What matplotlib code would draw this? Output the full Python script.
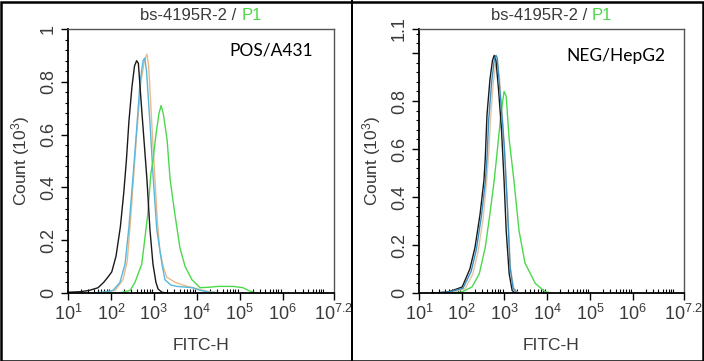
import numpy as np
import matplotlib
matplotlib.use("Agg")
import matplotlib.pyplot as plt
from matplotlib.patches import Rectangle
from matplotlib.ticker import FixedLocator, MultipleLocator

plt.rcParams['font.family'] = ['Liberation Sans', 'DejaVu Sans']
plt.rcParams['mathtext.fontset'] = 'custom'
plt.rcParams['mathtext.rm'] = 'Liberation Sans'
plt.rcParams['mathtext.it'] = 'Liberation Sans'

# ---------------- data (x as log10 FITC-H, y as Count / 10^3) ----------------
title_main = "bs-4195R-2 / "
title_gate = "P1"
panel_labels = ["POS/A431", "NEG/HepG2"]
x_tick_exps = [1, 2, 3, 4, 5, 6, 7.2]
x_tick_labels = ["10$^{1}$", "10$^{2}$", "10$^{3}$", "10$^{4}$", "10$^{5}$", "10$^{6}$", "10$^{7.2}$"]

# Left panel: POS/A431
pos_black_x = [1.0, 1.3, 1.5, 1.7, 1.83, 1.93, 2.02, 2.12, 2.22, 2.30, 2.36, 2.42, 2.49, 2.55, 2.60, 2.64, 2.72, 2.84, 2.91, 2.98, 3.05, 3.10, 3.19, 3.30]
pos_black_y = [0.003, 0.005, 0.01, 0.02, 0.04, 0.06, 0.08, 0.14, 0.25, 0.38, 0.50, 0.65, 0.78, 0.86, 0.88, 0.87, 0.69, 0.43, 0.24, 0.11, 0.04, 0.015, 0.003, 0.0]
pos_blue_x = [1.6, 1.9, 2.05, 2.21, 2.33, 2.42, 2.47, 2.52, 2.60, 2.68, 2.75, 2.79, 2.83, 2.92, 2.98, 3.07, 3.19, 3.26, 3.40, 3.54, 3.75, 3.91, 4.08, 4.30, 4.60]
pos_blue_y = [0.0, 0.005, 0.01, 0.04, 0.11, 0.25, 0.35, 0.45, 0.62, 0.80, 0.88, 0.89, 0.84, 0.62, 0.45, 0.24, 0.11, 0.05, 0.03, 0.025, 0.022, 0.02, 0.01, 0.003, 0.0]
pos_tan_x = [1.8, 2.1, 2.28, 2.38, 2.46, 2.52, 2.60, 2.70, 2.78, 2.84, 2.88, 2.95, 3.02, 3.08, 3.14, 3.22, 3.30, 3.50, 3.68, 3.90, 4.10, 4.30, 4.60]
pos_tan_y = [0.0, 0.01, 0.05, 0.12, 0.28, 0.42, 0.60, 0.80, 0.88, 0.905, 0.86, 0.65, 0.45, 0.28, 0.16, 0.10, 0.06, 0.04, 0.03, 0.02, 0.012, 0.005, 0.0]
pos_green_x = [2.2, 2.45, 2.56, 2.72, 2.86, 2.93, 2.98, 3.05, 3.12, 3.17, 3.22, 3.31, 3.38, 3.49, 3.61, 3.73, 3.89, 4.08, 4.30, 4.50, 4.85, 5.08, 5.20, 5.31, 5.40]
pos_green_y = [0.0, 0.01, 0.04, 0.11, 0.30, 0.45, 0.50, 0.60, 0.68, 0.71, 0.68, 0.58, 0.43, 0.30, 0.17, 0.10, 0.05, 0.02, 0.022, 0.025, 0.025, 0.02, 0.01, 0.003, 0.0]

# Right panel: NEG/HepG2
neg_black_x = [1.3, 1.49, 1.7, 2.01, 2.19, 2.31, 2.43, 2.52, 2.55, 2.59, 2.66, 2.72, 2.76, 2.80, 2.86, 2.93, 2.99, 3.04, 3.11, 3.18, 3.25]
neg_black_y = [0.0, 0.002, 0.005, 0.025, 0.10, 0.19, 0.33, 0.47, 0.56, 0.74, 0.89, 0.97, 0.99, 0.97, 0.85, 0.68, 0.47, 0.26, 0.08, 0.01, 0.0]
neg_blue_x = [1.4, 1.7, 2.03, 2.22, 2.34, 2.46, 2.55, 2.59, 2.63, 2.70, 2.76, 2.80, 2.83, 2.88, 2.95, 3.00, 3.06, 3.13, 3.20, 3.30]
neg_blue_y = [0.0, 0.004, 0.02, 0.09, 0.18, 0.32, 0.46, 0.56, 0.72, 0.88, 0.97, 0.99, 0.98, 0.87, 0.72, 0.60, 0.39, 0.11, 0.02, 0.0]
neg_tan_x = [1.5, 1.8, 2.08, 2.26, 2.38, 2.50, 2.58, 2.63, 2.68, 2.74, 2.79, 2.83, 2.88, 2.95, 3.01, 3.08, 3.14, 3.22, 3.32]
neg_tan_y = [0.0, 0.004, 0.018, 0.08, 0.17, 0.31, 0.46, 0.58, 0.74, 0.88, 0.95, 0.96, 0.90, 0.73, 0.55, 0.33, 0.10, 0.02, 0.0]
neg_green_x = [1.8, 2.01, 2.24, 2.41, 2.55, 2.66, 2.76, 2.83, 2.92, 2.99, 3.04, 3.11, 3.22, 3.34, 3.48, 3.72, 3.95, 4.11]
neg_green_y = [0.0, 0.005, 0.025, 0.08, 0.19, 0.33, 0.47, 0.59, 0.75, 0.84, 0.82, 0.64, 0.47, 0.26, 0.125, 0.04, 0.005, 0.0]

colors = {"black": "#1a1a1a", "blue": "#55b8dc", "tan": "#ebb98a", "green": "#4cd84c"}
neg_colors = {"black": "#1a1a1a", "blue": "#3a8fc0", "tan": "#e4c6a8", "green": "#4cd84c"}

W, H = 704, 361
fig = plt.figure(figsize=(W / 100, H / 100), dpi=100)
fig.patch.set_facecolor("white")

def px_axes(x0, y0, x1, y1):
    return fig.add_axes([x0 / W, 1 - y1 / H, (x1 - x0) / W, (y1 - y0) / H])

ax1 = px_axes(68, 29, 334, 293)
ax2 = px_axes(419, 29, 684, 293)

panels = [
    (ax1, [(pos_tan_x, pos_tan_y, "tan"), (pos_blue_x, pos_blue_y, "blue"),
           (pos_green_x, pos_green_y, "green"), (pos_black_x, pos_black_y, "black")],
     colors, 1.0, [0, 0.2, 0.4, 0.6, 0.8, 1.0], ["0", "0.2", "0.4", "0.6", "0.8", "1"],
     panel_labels[0], (313, 50)),
    (ax2, [(neg_tan_x, neg_tan_y, "tan"), (neg_green_x, neg_green_y, "green"),
           (neg_black_x, neg_black_y, "black"), (neg_blue_x, neg_blue_y, "blue")],
     neg_colors, 1.1, [0, 0.2, 0.4, 0.6, 0.8, 1.0, 1.1], ["0", "0.2", "0.4", "0.6", "0.8", "", "1.1"],
     panel_labels[1], (665, 56)),
]

txt_col = "#3a3a3a"
for ax, series, cmap, ytop, yt, ytl, lab, labpos in panels:
    for xs, ys, c in series:
        ax.plot(10 ** np.array(xs), ys, color=cmap[c], lw=1.0, solid_joinstyle="round")
    ax.set_xscale("log")
    ax.set_xlim(10 ** 1, 10 ** 7.2)
    ax.set_ylim(0, ytop)
    ax.set_xticks([10 ** e for e in x_tick_exps])
    ax.set_xticklabels(x_tick_labels)
    minor = []
    for d in range(1, 8):
        for m in range(2, 10):
            v = m * 10 ** d
            if v < 10 ** 7.2:
                minor.append(v)
    ax.xaxis.set_minor_locator(FixedLocator(minor))
    ax.xaxis.set_minor_formatter(plt.NullFormatter())
    ax.set_yticks(yt)
    ax.set_yticklabels(ytl, rotation=90, va="center")
    ax.yaxis.set_minor_locator(MultipleLocator(0.04))
    ax.tick_params(axis="x", which="major", direction="out", length=5, width=1, colors="black",
                   labelsize=13, labelcolor=txt_col, pad=3)
    ax.tick_params(axis="x", which="minor", direction="in", length=3, width=0.8, colors="black")
    ax.tick_params(axis="y", which="major", direction="out", length=5, width=1, colors="black",
                   labelsize=13, labelcolor=txt_col, pad=3)
    ax.tick_params(axis="y", which="minor", direction="out", length=2.5, width=0.8, colors="black")
    for s in ["left", "bottom"]:
        ax.spines[s].set_color("black")
        ax.spines[s].set_linewidth(1.3)
    for s in ["top", "right"]:
        ax.spines[s].set_color("#555555")
        ax.spines[s].set_linewidth(1.0)
    ax.set_xlabel("FITC-H", fontsize=12.5, color=txt_col, labelpad=10)
    ax.set_ylabel("Count (10$^{3}$)", fontsize=12.5, color=txt_col, labelpad=6)
    fig.text(labpos[0] / W, 1 - labpos[1] / H, lab, ha="right", va="center",
             fontsize=12.5, family=["Lato", "DejaVu Sans"], color="black")

# titles with green gate name
title_pairs = []
for ax in (ax1, ax2):
    bb = ax.get_position()
    cx = (bb.x0 + bb.x1) / 2
    t1 = fig.text(cx, 1 - 16 / H, title_main, ha="right", va="center", fontsize=12, color=txt_col)
    t2 = fig.text(cx, 1 - 16 / H, title_gate, ha="left", va="center", fontsize=12, color="#4cd84c")
    title_pairs.append((t1, t2))

fig.canvas.draw()
r = fig.canvas.get_renderer()
for a, b in title_pairs:
    wa = a.get_window_extent(r).width
    wb = b.get_window_extent(r).width
    shift = (wa - wb) / 2 / W
    a.set_x(a.get_position()[0] + shift)
    b.set_x(b.get_position()[0] + shift)

# outer border and divider
fig.add_artist(Rectangle((0.5 / W, 0.5 / H), 1 - 2 / W, 1 - 2 / H, transform=fig.transFigure,
                         fill=False, edgecolor="black", lw=1.8))
fig.add_artist(Rectangle((351 / W, 0), 2 / W, 1, transform=fig.transFigure,
                         facecolor="black", edgecolor="none"))

fig.savefig("out.png", dpi=100)
